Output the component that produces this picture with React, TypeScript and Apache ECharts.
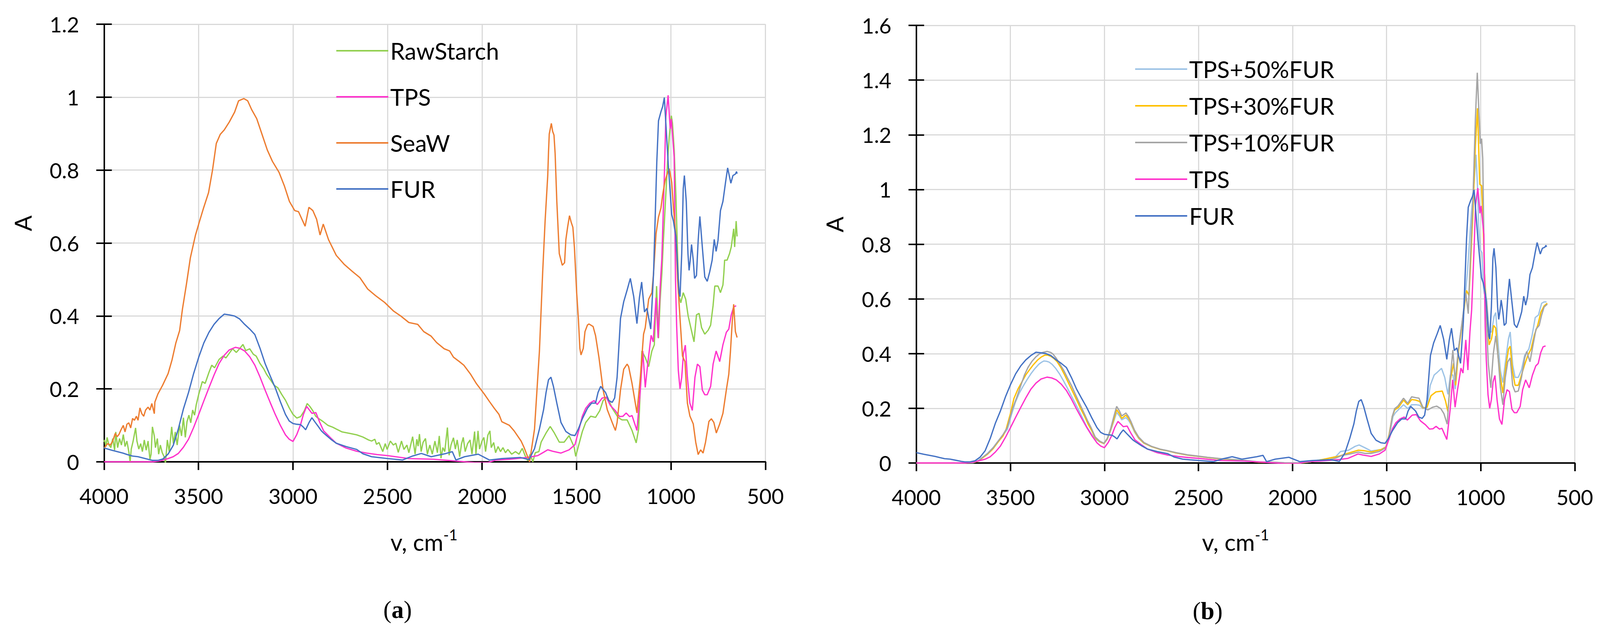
import React, { useEffect, useRef } from "react";
import * as echarts from "echarts";

type Pt = [number, number];

// ---------- data (wavenumber cm-1, absorbance) ----------
const rawStarch: Pt[] = [
  [4000,0.055],[3997,0.06],[3990,0.042],[3984,0.067],[3974,0.046],[3964,0.039],[3954,0.064],[3944,0.032],[3938,0.082],[3928,0.039],
  [3918,0.064],[3908,0.046],[3898,0.075],[3889,0.042],[3879,0.057],[3869,0.028],[3862,0.0],[3856,0.035],[3846,0.057],[3833,0.093],
  [3826,0.057],[3816,0.035],[3806,0.05],[3797,0.028],[3787,0.06],[3777,0.032],[3767,0.057],[3757,0.007],[3751,0.021],[3744,0.096],
  [3734,0.071],[3728,0.039],[3718,0.064],[3711,0.021],[3702,0.046],[3692,0.025],[3682,0.014],[3675,-0.004],[3665,0.06],[3655,0.028],
  [3642,0.096],[3633,0.05],[3623,0.082],[3613,0.046],[3600,0.1],[3590,0.071],[3580,0.121],[3570,0.067],[3561,0.11],[3551,0.128],
  [3541,0.107],[3531,0.142],[3521,0.128],[3512,0.157],[3499,0.185],[3480,0.22],[3465,0.215],[3445,0.245],[3430,0.265],[3415,0.258],
  [3391,0.281],[3370,0.29],[3355,0.285],[3337,0.298],[3320,0.31],[3300,0.3],[3283,0.31],[3265,0.322],[3250,0.305],[3229,0.31],
  [3210,0.295],[3195,0.29],[3175,0.27],[3155,0.255],[3140,0.24],[3121,0.226],[3100,0.21],[3080,0.203],[3060,0.185],[3040,0.169],
  [3020,0.148],[3000,0.13],[2980,0.12],[2960,0.124],[2940,0.14],[2925,0.16],[2911,0.152],[2895,0.14],[2880,0.125],[2865,0.119],
  [2840,0.11],[2815,0.1],[2790,0.095],[2771,0.09],[2740,0.082],[2700,0.078],[2663,0.074],[2630,0.068],[2600,0.06],[2584,0.057],
  [2567,0.062],[2558,0.048],[2545,0.053],[2525,0.028],[2512,0.05],[2502,0.034],[2485,0.057],[2469,0.046],[2456,0.051],[2443,0.026],
  [2426,0.057],[2413,0.034],[2397,0.046],[2387,0.025],[2367,0.069],[2354,0.021],[2345,0.062],[2338,0.043],[2331,0.076],[2322,0.028],
  [2312,0.053],[2299,0.064],[2289,0.021],[2276,0.046],[2263,0.021],[2249,0.057],[2236,0.025],[2226,0.071],[2217,0.01],[2207,0.039],
  [2197,0.028],[2183,0.094],[2174,0.018],[2164,0.046],[2151,0.066],[2141,0.035],[2131,0.06],[2118,0.014],[2108,0.05],[2099,0.067],
  [2089,0.028],[2076,0.05],[2063,0.06],[2053,0.021],[2039,0.083],[2032,0.021],[2021,0.085],[2013,0.035],[2000,0.057],[1990,0.067],
  [1981,0.028],[1969,0.073],[1958,0.085],[1951,0.039],[1938,0.053],[1928,0.025],[1915,0.042],[1902,0.028],[1889,0.039],[1876,0.025],
  [1863,0.034],[1843,0.021],[1823,0.028],[1804,0.021],[1787,0.037],[1771,0.016],[1758,0.003],[1745,0.021],[1731,0.0],[1718,0.025],
  [1699,0.028],[1687,0.054],[1661,0.079],[1639,0.097],[1617,0.079],[1591,0.054],[1565,0.054],[1539,0.072],[1512,0.04],[1504,0.015],
  [1486,0.05],[1469,0.083],[1451,0.108],[1425,0.125],[1399,0.122],[1377,0.14],[1359,0.168],[1337,0.179],[1311,0.147],[1280,0.122],
  [1259,0.115],[1232,0.115],[1206,0.086],[1184,0.052],[1171,0.09],[1154,0.304],[1136,0.286],[1118,0.261],[1101,0.304],[1088,0.321],
  [1076,0.482],[1066,0.339],[1057,0.446],[1048,0.518],[1040,0.607],[1031,0.696],[1018,0.821],[1009,0.892],[998,0.949],[992,0.928],
  [983,0.856],[974,0.732],[967,0.607],[961,0.5],[957,0.454],[948,0.436],[935,0.464],[922,0.446],[909,0.4],[895,0.368],
  [878,0.329],[865,0.403],[851,0.407],[838,0.368],[821,0.35],[803,0.361],[790,0.375],[777,0.429],[768,0.482],[751,0.482],
  [738,0.464],[725,0.485],[720,0.518],[716,0.553],[703,0.553],[690,0.571],[681,0.589],[668,0.639],[663,0.589],[655,0.66],
  [650,0.618],
];

const tps: Pt[] = [
  [4000,0.0],[3900,0.0],[3800,0.0],[3742,0.0],[3700,0.003],[3661,0.009],[3634,0.014],[3607,0.023],[3580,0.04],[3553,0.062],
  [3526,0.094],[3499,0.13],[3472,0.167],[3445,0.203],[3418,0.238],[3391,0.27],[3364,0.292],[3337,0.307],[3305,0.314],[3280,0.311],
  [3256,0.304],[3229,0.288],[3202,0.265],[3175,0.233],[3148,0.197],[3121,0.163],[3094,0.13],[3067,0.1],[3040,0.074],[3020,0.062],
  [3000,0.056],[2980,0.075],[2960,0.102],[2945,0.13],[2928,0.152],[2910,0.14],[2900,0.133],[2879,0.135],[2860,0.11],[2838,0.085],
  [2800,0.065],[2771,0.051],[2720,0.038],[2663,0.029],[2610,0.024],[2555,0.02],[2499,0.017],[2387,0.009],[2256,0.007],[2157,0.003],
  [2040,-0.002],[1967,-0.002],[1928,0.005],[1854,0.007],[1797,0.01],[1749,0.013],[1705,0.017],[1675,0.026],[1652,0.033],
  [1626,0.029],[1582,0.024],[1539,0.033],[1508,0.047],[1486,0.09],[1469,0.125],[1451,0.147],[1429,0.161],[1407,0.168],[1390,0.157],
  [1364,0.175],[1342,0.177],[1320,0.154],[1294,0.14],[1272,0.124],[1254,0.125],[1237,0.134],[1219,0.124],[1206,0.127],[1180,0.086],
  [1162,0.197],[1149,0.304],[1136,0.204],[1123,0.268],[1105,0.347],[1094,0.329],[1079,0.45],[1068,0.34],[1057,0.48],[1048,0.56],
  [1035,0.785],[1027,0.946],[1015,1.005],[1004,0.913],[998,0.94],[983,0.836],[976,0.5],[970,0.375],[961,0.25],[952,0.2],
  [943,0.232],[934,0.297],[924,0.32],[913,0.232],[900,0.161],[887,0.141],[873,0.232],[860,0.268],[847,0.261],[834,0.197],
  [821,0.184],[808,0.184],[790,0.207],[777,0.268],[761,0.304],[742,0.275],[725,0.321],[707,0.355],[694,0.364],[681,0.403],
  [668,0.425],[655,0.428],
];

const seaW: Pt[] = [
  [4000,0.04],[3997,0.039],[3981,0.05],[3967,0.046],[3954,0.057],[3941,0.078],[3931,0.069],[3921,0.075],[3911,0.087],[3898,0.1],
  [3889,0.082],[3879,0.103],[3869,0.107],[3859,0.093],[3849,0.119],[3839,0.114],[3829,0.125],[3820,0.114],[3810,0.148],[3800,0.132],
  [3790,0.125],[3780,0.142],[3767,0.15],[3757,0.142],[3747,0.16],[3734,0.132],[3731,0.164],[3715,0.186],[3690,0.21],[3661,0.242],
  [3640,0.28],[3620,0.326],[3600,0.36],[3585,0.419],[3564,0.487],[3543,0.56],
  [3516,0.622],[3495,0.659],[3474,0.695],[3447,0.738],[3426,0.8],[3406,0.873],[3385,0.898],[3364,0.91],[3337,0.932],[3309,0.959],
  [3288,0.99],[3260,0.996],[3240,0.99],[3219,0.966],[3192,0.941],[3164,0.898],[3136,0.855],[3109,0.824],[3074,0.794],[3046,0.757],
  [3019,0.714],[2991,0.689],[2971,0.686],[2936,0.646],[2916,0.698],[2895,0.689],[2875,0.665],[2857,0.622],[2840,0.652],[2812,0.609],
  [2771,0.566],[2730,0.542],[2688,0.523],[2646,0.505],[2605,0.474],[2564,0.456],[2515,0.437],[2467,0.413],[2430,0.4],[2387,0.382],
  [2340,0.377],[2308,0.357],[2270,0.345],[2240,0.327],[2200,0.31],[2171,0.304],[2151,0.287],[2120,0.275],[2096,0.265],[2060,0.24],
  [2029,0.214],[1988,0.186],[1960,0.165],[1935,0.147],[1910,0.13],[1895,0.11],[1855,0.1],[1830,0.085],[1793,0.057],[1777,0.039],
  [1748,0.0],[1722,0.09],[1696,0.304],[1679,0.518],[1666,0.66],[1652,0.785],[1648,0.849],[1644,0.899],[1633,0.928],[1626,0.906],
  [1619,0.896],[1613,0.846],[1604,0.714],[1591,0.571],[1575,0.539],[1563,0.546],[1556,0.61],[1547,0.643],[1537,0.675],[1528,0.657],
  [1519,0.643],[1511,0.589],[1499,0.464],[1490,0.393],[1482,0.311],[1476,0.293],[1464,0.311],[1455,0.357],[1442,0.375],[1434,0.378],
  [1412,0.371],[1399,0.346],[1381,0.286],[1372,0.25],[1359,0.197],[1337,0.143],[1311,0.108],[1294,0.086],[1285,0.108],[1267,0.197],
  [1250,0.254],[1232,0.268],[1224,0.261],[1206,0.215],[1180,0.134],[1162,0.232],[1145,0.35],[1136,0.368],[1118,0.446],[1101,0.464],
  [1092,0.518],[1079,0.625],[1066,0.671],[1053,0.696],[1044,0.732],[1031,0.771],[1018,0.792],[1009,0.804],[996,0.767],[987,0.696],
  [974,0.621],[965,0.5],[952,0.393],[939,0.29],[926,0.275],[913,0.161],[900,0.126],[882,0.104],[869,0.054],[856,0.02],
  [843,0.033],[830,0.024],[817,0.054],[799,0.111],[786,0.118],[773,0.108],[760,0.079],[742,0.104],[725,0.133],[707,0.197],
  [694,0.24],[685,0.304],[676,0.382],[668,0.432],[659,0.357],[650,0.341],
];

const fur: Pt[] = [
  [4000,0.038],[3960,0.032],[3930,0.028],[3900,0.024],[3877,0.02],[3850,0.016],[3820,0.014],[3790,0.01],[3760,0.006],[3742,0.004],
  [3715,0.004],[3688,0.008],[3660,0.022],[3634,0.045],[3607,0.09],[3580,0.145],[3553,0.19],[3526,0.242],[3499,0.287],[3472,0.326],
  [3445,0.355],[3418,0.377],[3391,0.393],[3364,0.405],[3337,0.403],[3310,0.4],[3283,0.392],[3256,0.377],[3229,0.364],[3202,0.349],
  [3175,0.312],[3148,0.27],[3121,0.236],[3094,0.203],[3067,0.165],[3040,0.13],[3020,0.112],[3000,0.105],[2980,0.103],[2960,0.102],
  [2945,0.095],[2933,0.088],[2915,0.108],[2900,0.121],[2882,0.108],[2865,0.096],[2850,0.085],[2838,0.079],[2800,0.062],[2771,0.051],
  [2720,0.042],[2663,0.034],[2630,0.022],[2584,0.014],[2499,0.009],[2420,0.005],[2367,0.016],[2321,0.023],[2269,0.014],[2190,0.023],
  [2157,0.028],[2138,0.005],[2092,0.014],[2020,0.021],[1961,0.005],[1895,0.009],[1797,0.012],[1751,0.006],[1722,0.036],
  [1696,0.09],[1674,0.143],[1661,0.19],[1648,0.225],[1635,0.232],[1622,0.207],[1604,0.161],[1582,0.108],[1556,0.083],[1530,0.074],
  [1508,0.072],[1490,0.09],[1469,0.118],[1442,0.147],[1420,0.161],[1399,0.161],[1386,0.19],[1372,0.207],[1346,0.19],[1329,0.168],
  [1311,0.163],[1298,0.175],[1285,0.232],[1267,0.393],[1250,0.439],[1232,0.471],[1215,0.503],[1197,0.453],[1180,0.379],[1167,0.45],
  [1155,0.493],[1140,0.411],[1127,0.421],[1107,0.364],[1092,0.518],[1083,0.678],[1075,0.821],[1066,0.935],[1053,0.96],[1044,0.974],
  [1035,0.999],[1027,0.928],[1014,0.814],[996,0.678],[987,0.66],[974,0.618],[965,0.536],[957,0.464],[952,0.453],[943,0.571],
  [935,0.749],[929,0.785],[919,0.714],[910,0.571],[904,0.525],[898,0.553],[891,0.596],[882,0.553],[875,0.503],[865,0.511],
  [856,0.607],[847,0.673],[834,0.589],[821,0.507],[808,0.495],[795,0.521],[782,0.553],[771,0.61],[761,0.577],[751,0.607],
  [738,0.689],[725,0.714],[711,0.767],[700,0.806],[683,0.764],[672,0.785],[659,0.789],[653,0.796],[650,0.79],
];

const tps50: Pt[] = [
  [4000,0.0],[3800,0.0],[3701,0.002],[3670,0.009],[3647,0.021],[3620,0.036],[3592,0.056],[3565,0.08],[3538,0.103],[3516,0.123],
  [3495,0.175],[3474,0.221],[3453,0.255],[3432,0.281],[3411,0.305],[3391,0.326],[3370,0.345],[3349,0.361],[3335,0.368],[3322,0.373],
  [3308,0.372],[3294,0.369],[3277,0.36],[3259,0.346],[3238,0.325],[3218,0.301],[3197,0.274],[3176,0.246],[3155,0.218],[3135,0.191],
  [3113,0.16],[3093,0.131],[3070,0.107],[3049,0.088],[3025,0.077],[3003,0.071],[2985,0.086],[2968,0.116],[2950,0.153],[2935,0.185],
  [2920,0.172],[2908,0.158],[2895,0.163],[2886,0.166],[2872,0.156],[2859,0.142],[2840,0.113],[2818,0.09],[2790,0.072],[2750,0.06],
  [2700,0.049],[2669,0.045],[2620,0.037],[2560,0.029],[2500,0.024],[2452,0.02],[2380,0.015],[2316,0.012],[2250,0.008],[2180,0.004],
  [2100,0.002],[2044,0.001],[1980,0.0],[1908,0.005],[1839,0.013],[1771,0.023],[1745,0.042],[1702,0.047],[1667,0.061],[1646,0.066],
  [1616,0.056],[1582,0.044],[1530,0.049],[1500,0.061],[1483,0.108],[1466,0.17],[1453,0.184],[1431,0.199],[1410,0.213],[1388,0.199],
  [1367,0.213],[1341,0.213],[1324,0.211],[1307,0.199],[1285,0.204],[1268,0.284],[1247,0.322],[1230,0.332],[1208,0.346],[1191,0.313],
  [1174,0.251],[1161,0.322],[1148,0.322],[1135,0.27],[1118,0.417],[1101,0.503],[1084,0.598],[1071,0.693],[1049,0.916],[1036,1.014],
  [1025,1.127],[1017,1.014],[1011,0.867],[1002,0.779],[993,0.769],[985,0.638],[981,0.62],[968,0.598],[955,0.479],[942,0.479],
  [929,0.536],[920,0.55],[907,0.432],[895,0.337],[882,0.294],[865,0.389],[852,0.455],[843,0.479],[830,0.36],[817,0.313],
  [800,0.313],[783,0.341],[766,0.394],[744,0.417],[727,0.465],[710,0.532],[693,0.541],[676,0.584],[663,0.589],[650,0.589],
];

const tps30: Pt[] = [
  [4000,0.0],[3800,0.0],[3701,0.001],[3670,0.007],[3647,0.019],[3620,0.033],[3592,0.052],[3565,0.077],[3538,0.1],[3523,0.123],
  [3500,0.18],[3481,0.236],[3460,0.27],[3439,0.296],[3418,0.322],[3398,0.341],[3377,0.36],[3356,0.376],[3335,0.388],[3315,0.395],
  [3300,0.394],[3287,0.391],[3270,0.383],[3252,0.371],[3230,0.347],[3211,0.321],[3190,0.291],[3169,0.261],[3148,0.231],[3128,0.201],
  [3105,0.17],[3086,0.141],[3065,0.115],[3049,0.092],[3025,0.078],[3003,0.071],[2985,0.088],[2968,0.12],[2950,0.16],[2935,0.195],
  [2920,0.18],[2908,0.163],[2895,0.17],[2886,0.175],[2872,0.163],[2859,0.147],[2840,0.117],[2818,0.092],[2790,0.073],[2750,0.06],
  [2700,0.049],[2669,0.045],[2620,0.037],[2560,0.029],[2500,0.024],[2452,0.02],[2380,0.015],[2316,0.012],[2250,0.008],[2180,0.003],
  [2100,0.002],[2044,0.0],[1980,-0.002],[1908,0.004],[1839,0.013],[1753,0.025],[1710,0.035],[1650,0.047],[1620,0.045],[1582,0.04],
  [1530,0.049],[1504,0.058],[1487,0.104],[1470,0.17],[1457,0.194],[1436,0.204],[1410,0.23],[1388,0.213],[1367,0.232],[1345,0.23],
  [1324,0.225],[1307,0.201],[1285,0.204],[1264,0.246],[1238,0.26],[1204,0.263],[1187,0.227],[1174,0.187],[1161,0.303],[1144,0.365],
  [1133,0.284],[1118,0.408],[1101,0.494],[1084,0.584],[1075,0.631],[1062,0.612],[1056,0.693],[1041,0.916],[1028,1.162],[1017,1.297],
  [1011,1.162],[1005,1.019],[995,1.014],[989,0.916],[980,0.7],[972,0.6],[968,0.574],[955,0.432],[942,0.455],[931,0.503],
  [920,0.493],[907,0.384],[895,0.313],[882,0.256],[865,0.36],[852,0.417],[843,0.427],[830,0.332],[817,0.284],[800,0.284],
  [783,0.322],[766,0.36],[749,0.394],[732,0.417],[714,0.47],[697,0.503],[680,0.551],[663,0.574],[646,0.584],
];

const tps10: Pt[] = [
  [4000,0.0],[3900,0.0],[3800,0.0],[3701,0.001],[3670,0.008],[3647,0.021],[3620,0.035],[3592,0.055],[3565,0.08],[3538,0.105],
  [3516,0.13],[3488,0.2],[3466,0.24],[3446,0.28],[3425,0.322],[3405,0.351],[3385,0.372],[3363,0.389],[3345,0.399],[3329,0.404],
  [3305,0.408],[3285,0.404],[3273,0.398],[3255,0.382],[3238,0.363],[3215,0.337],[3197,0.312],[3175,0.283],[3155,0.252],[3135,0.222],
  [3114,0.191],[3090,0.155],[3072,0.131],[3049,0.095],[3025,0.08],[3003,0.072],[2985,0.09],[2968,0.123],[2950,0.17],[2935,0.207],
  [2920,0.19],[2908,0.172],[2895,0.178],[2886,0.183],[2872,0.17],[2859,0.152],[2840,0.12],[2818,0.095],[2790,0.075],[2750,0.061],
  [2700,0.05],[2669,0.046],[2620,0.038],[2560,0.03],[2500,0.025],[2452,0.021],[2380,0.016],[2316,0.013],[2250,0.009],[2180,0.004],
  [2100,0.003],[2044,0.001],[1980,0.0],[1908,0.004],[1840,0.011],[1800,0.013],[1771,0.018],[1736,0.028],[1702,0.032],[1650,0.04],
  [1616,0.035],[1582,0.035],[1539,0.042],[1504,0.056],[1487,0.099],[1470,0.17],[1457,0.199],[1440,0.208],[1410,0.237],[1388,0.218],
  [1367,0.242],[1345,0.239],[1328,0.237],[1307,0.204],[1281,0.194],[1255,0.204],[1234,0.208],[1212,0.199],[1195,0.18],[1178,0.142],
  [1161,0.313],[1148,0.413],[1135,0.299],[1120,0.408],[1105,0.484],[1092,0.55],[1079,0.622],[1066,0.546],[1058,0.693],[1041,0.965],
  [1028,1.26],[1018,1.427],[1011,1.309],[1002,1.167],[995,1.186],[989,1.113],[985,0.916],[980,0.7],[972,0.55],[959,0.36],
  [946,0.275],[933,0.398],[920,0.465],[907,0.384],[895,0.275],[882,0.213],[869,0.313],[856,0.37],[843,0.384],[830,0.284],
  [817,0.26],[800,0.263],[783,0.313],[766,0.384],[755,0.408],[738,0.37],[723,0.427],[706,0.489],[689,0.503],[676,0.541],
  [663,0.57],[646,0.581],
];

// ---------- axes / labels ----------
const xMin = 500;
const xMax = 4000;
const xStep = 500;
const yStep = 0.2;
const yMaxA = 1.2;
const yMaxB = 1.6;
const legendA = ["RawStarch", "TPS", "SeaW", "FUR"];
const legendB = ["TPS+50%FUR", "TPS+30%FUR", "TPS+10%FUR", "TPS", "FUR"];
const colors: Record<string, string> = {
  RawStarch: "#92d050",
  TPS: "#ff33cc",
  SeaW: "#ed7d31",
  FUR: "#4472c4",
  "TPS+50%FUR": "#9dc3e6",
  "TPS+30%FUR": "#ffc000",
  "TPS+10%FUR": "#a5a5a5",
};

const FONT = "Lato, 'Open Sans', 'Noto Sans', sans-serif";
const SERIF = "'Liberation Serif', 'DejaVu Serif', serif";
const REF_W = 4306;
const REF_H = 1624;

function buildOption(W: number, H: number) {
  const sx = W / REF_W;
  const sy = H / REF_H;
  const k = Math.min(sx, sy);
  const X = (v: number) => v * sx;
  const Y = (v: number) => v * sy;
  const F = (v: number) => v * k;

  const grids = [
    { left: X(280), top: Y(62), width: X(1780), height: Y(1121) },
    { left: X(2466), top: Y(65), width: X(1772), height: Y(1121) },
  ];
  const tickStyle = { color: "#000", width: F(4) };
  const xAxes: any[] = [];
  const yAxes: any[] = [];
  [0, 1].forEach((gi) => {
    const yMax = gi === 0 ? yMaxA : yMaxB;
    xAxes.push({
      type: "value", gridIndex: gi, inverse: true, min: xMin, max: xMax, interval: xStep,
      axisLine: { show: true, onZero: false, lineStyle: { color: "#000", width: F(4) } },
      axisTick: { show: true, length: Y(21), lineStyle: tickStyle },
      axisLabel: {
        show: true, fontSize: F(57), fontFamily: FONT, color: "#000", margin: Y(60),
        formatter: (v: number) => String(v),
      },
      splitLine: { show: true, lineStyle: { color: "#d9d9d9", width: F(3) } },
    });
    xAxes.push({
      type: "value", gridIndex: gi, inverse: true, min: xMin, max: xMax, interval: xStep,
      axisLine: { show: false },
      axisTick: { show: true, inside: true, length: Y(21), lineStyle: tickStyle },
      axisLabel: { show: false },
      splitLine: { show: false },
    });
    yAxes.push({
      type: "value", gridIndex: gi, min: 0, max: yMax, interval: yStep,
      axisLine: { show: true, onZero: false, lineStyle: { color: "#000", width: F(4) } },
      axisTick: { show: true, length: X(21), lineStyle: tickStyle },
      axisLabel: {
        show: true, fontSize: F(57), fontFamily: FONT, color: "#000", margin: X(67),
        formatter: (v: number) => String(Math.round(v * 10) / 10),
      },
      splitLine: { show: true, lineStyle: { color: "#d9d9d9", width: F(3) } },
    });
    yAxes.push({
      type: "value", gridIndex: gi, min: 0, max: yMax, interval: yStep, position: "left",
      axisLine: { show: false },
      axisTick: { show: true, inside: true, length: X(21), lineStyle: tickStyle },
      axisLabel: { show: false },
      splitLine: { show: false },
    });
  });

  const mk = (name: string, data: Pt[], gi: number) => ({
    type: "line", name, data, xAxisIndex: gi * 2, yAxisIndex: gi * 2,
    showSymbol: false, symbol: "none", silent: true, clip: true,
    lineStyle: { color: colors[name], width: F(3.5) },
    itemStyle: { color: colors[name] },
    emphasis: { disabled: true },
  });

  const series = [
    mk("RawStarch", rawStarch, 0),
    mk("TPS", tps, 0),
    mk("SeaW", seaW, 0),
    mk("FUR", fur, 0),
    mk("TPS+50%FUR", tps50, 1),
    mk("TPS+30%FUR", tps30, 1),
    mk("TPS+10%FUR", tps10, 1),
    mk("TPS", tps, 1),
    mk("FUR", fur, 1),
  ];

  const legendText = { fontSize: F(63), fontFamily: FONT, color: "#000", lineHeight: Y(64) };
  const legend = [
    { data: legendA, orient: "vertical", left: X(905), top: Y(98), padding: 0, itemWidth: X(140), itemHeight: F(4), itemGap: Y(54), icon: "rect", selectedMode: false, textStyle: legendText },
    { data: legendB, orient: "vertical", left: X(3055), top: Y(145), padding: 0, itemWidth: X(140), itemHeight: F(4), itemGap: Y(30), icon: "rect", selectedMode: false, textStyle: legendText },
  ];

  const axisTitle = (x: number, y: number) => ({
    type: "text", x: X(x), y: Y(y), silent: true,
    style: {
      text: "{m|v, cm}{s|-1}", align: "center", verticalAlign: "middle",
      rich: {
        m: { fontSize: F(63), lineHeight: F(80), fontFamily: FONT, fill: "#000" },
        s: { fontSize: F(40), lineHeight: F(40), fontFamily: FONT, fill: "#000", verticalAlign: "top" },
      },
    },
  });
  const yTitle = (x: number, y: number) => ({
    type: "text", x: X(x), y: Y(y), rotation: Math.PI / 2, silent: true,
    style: { text: "A", fontSize: F(63), fontFamily: FONT, fill: "#000", align: "center", verticalAlign: "middle" },
  });
  const panel = (x: number, y: number, letter: string) => ({
    type: "text", x: X(x), y: Y(y), silent: true,
    style: {
      text: `{p|(}{b|${letter}}{p|)}`, align: "center", verticalAlign: "middle",
      rich: {
        p: { fontSize: F(66), fontFamily: SERIF, fill: "#000" },
        b: { fontSize: F(66), fontFamily: SERIF, fontWeight: "bold", fill: "#000" },
      },
    },
  });

  return {
    animation: false,
    backgroundColor: "#ffffff",
    grid: grids,
    xAxis: xAxes,
    yAxis: yAxes,
    legend,
    series,
    graphic: [
      yTitle(61, 572),
      yTitle(2246, 575),
      axisTitle(1141, 1388),
      axisTitle(3325, 1388),
      panel(1070, 1562, "a"),
      panel(3250, 1565, "b"),
    ],
  };
}

export default function App() {
  const ref = useRef<HTMLDivElement>(null);
  useEffect(() => {
    const el = ref.current;
    if (!el) return;
    const W = el.clientWidth || REF_W;
    const H = el.clientHeight || REF_H;
    const chart = echarts.init(el, undefined, { renderer: "svg", width: W, height: H });
    chart.setOption(buildOption(W, H) as any);
    return () => chart.dispose();
  }, []);
  return (
    <div
      ref={ref}
      style={{ position: "fixed", left: 0, top: 0, width: "100vw", height: "100vh", background: "#fff", overflow: "hidden" }}
    />
  );
}
